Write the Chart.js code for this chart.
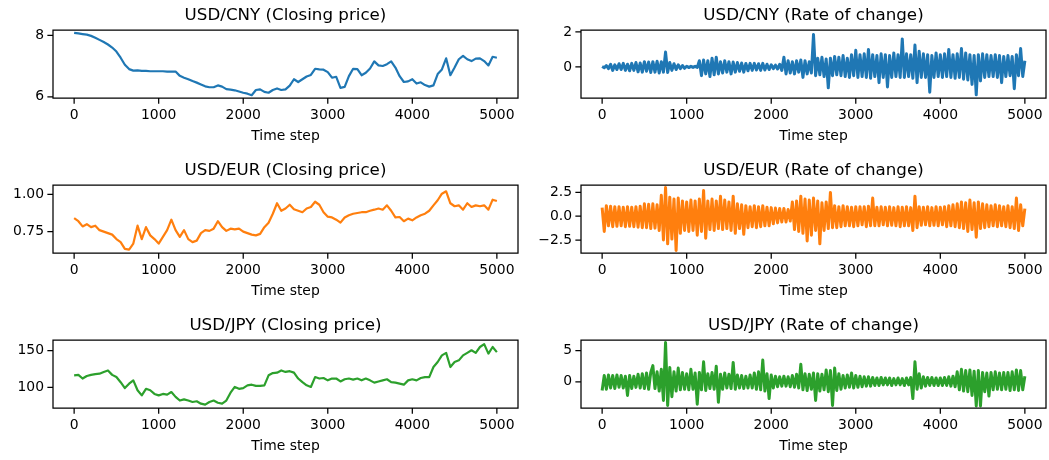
<!DOCTYPE html>
<html>
<head>
<meta charset="utf-8">
<script src="https://cdn.jsdelivr.net/npm/chart.js@4.4.1/dist/chart.umd.min.js"></script>
<style>
  html, body { margin: 0; padding: 0; background: #fff; }
  body { width: 1049px; height: 460px; position: relative; overflow: hidden; }
  canvas { position: absolute; }
</style>
</head>
<body>
<canvas id="cnyClose"></canvas>
<canvas id="cnyRoc"></canvas>
<canvas id="eurClose"></canvas>
<canvas id="eurRoc"></canvas>
<canvas id="jpyClose"></canvas>
<canvas id="jpyRoc"></canvas>
<script>
// time steps (x) for closing prices, every 50 steps
const closeSteps = [
  0, 50, 100, 150, 200, 250, 300, 350, 400, 450,
  500, 550, 600, 650, 700, 750, 800, 850, 900, 950,
  1000, 1050, 1100, 1150, 1200, 1250, 1300, 1350, 1400, 1450,
  1500, 1550, 1600, 1650, 1700, 1750, 1800, 1850, 1900, 1950,
  2000, 2050, 2100, 2150, 2200, 2250, 2300, 2350, 2400, 2450,
  2500, 2550, 2600, 2650, 2700, 2750, 2800, 2850, 2900, 2950,
  3000, 3050, 3100, 3150, 3200, 3250, 3300, 3350, 3400, 3450,
  3500, 3550, 3600, 3650, 3700, 3750, 3800, 3850, 3900, 3950,
  4000, 4050, 4100, 4150, 4200, 4250, 4300, 4350, 4400, 4450,
  4500, 4550, 4600, 4650, 4700, 4750, 4800, 4850, 4900, 4950,
  5000
];

// time steps (x) for rates of change, every 25 steps
const rocSteps = [
  0, 25, 50, 75, 100, 125, 150, 175,
  200, 225, 250, 275, 300, 325, 350, 375,
  400, 425, 450, 475, 500, 525, 550, 575,
  600, 625, 650, 675, 700, 725, 750, 775,
  800, 825, 850, 875, 900, 925, 950, 975,
  1000, 1025, 1050, 1075, 1100, 1125, 1150, 1175,
  1200, 1225, 1250, 1275, 1300, 1325, 1350, 1375,
  1400, 1425, 1450, 1475, 1500, 1525, 1550, 1575,
  1600, 1625, 1650, 1675, 1700, 1725, 1750, 1775,
  1800, 1825, 1850, 1875, 1900, 1925, 1950, 1975,
  2000, 2025, 2050, 2075, 2100, 2125, 2150, 2175,
  2200, 2225, 2250, 2275, 2300, 2325, 2350, 2375,
  2400, 2425, 2450, 2475, 2500, 2525, 2550, 2575,
  2600, 2625, 2650, 2675, 2700, 2725, 2750, 2775,
  2800, 2825, 2850, 2875, 2900, 2925, 2950, 2975,
  3000, 3025, 3050, 3075, 3100, 3125, 3150, 3175,
  3200, 3225, 3250, 3275, 3300, 3325, 3350, 3375,
  3400, 3425, 3450, 3475, 3500, 3525, 3550, 3575,
  3600, 3625, 3650, 3675, 3700, 3725, 3750, 3775,
  3800, 3825, 3850, 3875, 3900, 3925, 3950, 3975,
  4000, 4025, 4050, 4075, 4100, 4125, 4150, 4175,
  4200, 4225, 4250, 4275, 4300, 4325, 4350, 4375,
  4400, 4425, 4450, 4475, 4500, 4525, 4550, 4575,
  4600, 4625, 4650, 4675, 4700, 4725, 4750, 4775,
  4800, 4825, 4850, 4875, 4900, 4925, 4950, 4975,
  5000
];

const xTicks = [0, 1000, 2000, 3000, 4000, 5000];
const xTickLabels = ['0', '1000', '2000', '3000', '4000', '5000'];

// USD/CNY
const cnyClose = [
  8.08, 8.06, 8.04, 8.02, 7.98, 7.92, 7.85, 7.78, 7.70, 7.60,
  7.47, 7.27, 7.04, 6.90, 6.85, 6.86, 6.84, 6.84, 6.83, 6.83,
  6.83, 6.83, 6.82, 6.82, 6.82, 6.68, 6.62, 6.57, 6.51, 6.46,
  6.40, 6.34, 6.31, 6.31, 6.37, 6.33, 6.25, 6.23, 6.21, 6.17,
  6.13, 6.10, 6.05, 6.22, 6.24, 6.16, 6.13, 6.22, 6.27, 6.22,
  6.24, 6.36, 6.57, 6.48, 6.57, 6.66, 6.71, 6.91, 6.89, 6.88,
  6.80, 6.62, 6.65, 6.29, 6.32, 6.67, 6.91, 6.90, 6.70, 6.78,
  6.92, 7.15, 7.02, 7.00, 7.06, 7.15, 6.95, 6.67, 6.48, 6.50,
  6.57, 6.43, 6.47, 6.38, 6.33, 6.37, 6.74, 6.89, 7.25, 6.70,
  6.95, 7.22, 7.33, 7.22, 7.16, 7.24, 7.25, 7.16, 7.02, 7.30,
  7.27
];
const cnyRoc = [
  0.02, -0.05, 0.08, -0.1, 0.15, -0.2, 0.12, -0.15,
  0.18, -0.15, 0.2, -0.2, 0.15, -0.22, 0.2, -0.2,
  0.25, -0.28, 0.22, -0.3, 0.3, -0.25, 0.28, -0.32,
  0.3, -0.3, 0.32, -0.35, 0.3, -0.3, 0.85, -0.32,
  0.25, -0.2, 0.18, -0.15, 0.12, -0.1, 0.08, -0.08,
  0.04, -0.04, 0.03, -0.03, 0.03, -0.03, 0.35, -0.5,
  0.4, -0.4, 0.35, -0.55, 0.5, -0.45, 0.55, -0.4,
  0.3, -0.35, 0.35, -0.3, 0.3, -0.4, 0.28, -0.3,
  0.25, -0.25, 0.22, -0.3, 0.2, -0.22, 0.2, -0.2,
  0.2, -0.18, 0.18, -0.2, 0.2, -0.18, 0.15, -0.15,
  0.12, -0.1, 0.1, -0.12, 0.15, -0.2, 0.55, -0.4,
  0.35, -0.35, 0.3, -0.4, 0.35, -0.3, 0.4, -0.6,
  0.35, -0.4, 0.3, -0.35, 1.85, -0.5, 0.5, -0.45,
  0.55, -0.55, 0.45, -1.2, 0.5, -0.5, 0.6, -0.45,
  0.55, -0.5, 0.65, -0.55, 0.5, -0.6, 0.7, -0.5,
  0.95, -0.6, 0.7, -0.55, 0.75, -0.6, 1.0, -0.65,
  0.7, -0.55, 0.65, -0.9, 0.75, -0.6, 0.7, -1.15,
  0.65, -0.6, 0.8, -0.55, 0.7, -0.6, 1.6, -0.6,
  0.75, -0.55, 0.7, -0.65, 1.25, -0.9, 0.9, -0.6,
  0.75, -0.6, 0.7, -1.45, 0.65, -0.6, 0.8, -0.55,
  0.7, -0.6, 0.75, -0.55, 1.0, -0.6, 0.7, -0.65,
  0.75, -0.6, 1.05, -0.7, 0.8, -0.75, 0.7, -1.0,
  0.65, -1.6, 0.7, -0.8, 0.75, -0.6, 0.7, -0.55,
  0.65, -0.55, 0.7, -0.6, 0.65, -0.9, 0.6, -0.55,
  0.65, -0.5, 0.6, -1.25, 0.7, -0.5, 1.05, -0.55,
  0.35
];

// USD/EUR
const eurClose = [
  0.84, 0.82, 0.785, 0.80, 0.78, 0.79, 0.76, 0.75, 0.74, 0.73,
  0.70, 0.68, 0.635, 0.63, 0.67, 0.79, 0.70, 0.78, 0.725, 0.70,
  0.67, 0.715, 0.76, 0.83, 0.76, 0.715, 0.76, 0.70, 0.68, 0.69,
  0.74, 0.76, 0.755, 0.77, 0.82, 0.78, 0.755, 0.77, 0.765, 0.77,
  0.75, 0.74, 0.73, 0.725, 0.735, 0.78, 0.81, 0.87, 0.94, 0.89,
  0.905, 0.93, 0.90, 0.89, 0.88, 0.905, 0.915, 0.95, 0.93, 0.88,
  0.85, 0.845, 0.83, 0.81, 0.845, 0.86, 0.87, 0.875, 0.88, 0.88,
  0.89, 0.897, 0.905, 0.897, 0.926, 0.89, 0.845, 0.848, 0.82, 0.837,
  0.826, 0.845, 0.86, 0.87, 0.89, 0.926, 0.96, 1.004, 1.02, 0.94,
  0.92, 0.926, 0.897, 0.94, 0.915, 0.926, 0.92, 0.926, 0.897, 0.964,
  0.955
];
const eurRoc = [
  0.9, -1.6, 1.1, -1.0, 1.05, -1.1, 1.0, -1.05,
  1.0, -1.0, 0.95, -1.1, 1.0, -1.05, 0.95, -1.1,
  1.0, -1.15, 1.05, -1.2, 1.3, -1.2, 1.25, -1.3,
  1.3, -1.25, 1.2, -1.5, 2.2, -2.5, 3.0, -2.9,
  2.0, -2.4, 1.8, -3.6, 1.9, -1.8, 1.6, -1.5,
  1.5, -1.6, 1.7, -1.5, 1.6, -2.0, 1.8, -1.6,
  2.7, -2.3, 1.6, -1.4, 1.8, -1.5, 1.6, -1.3,
  2.1, -1.4, 1.7, -1.3, 1.5, -1.5, 2.1, -1.8,
  1.3, -1.3, 1.2, -1.9, 1.1, -1.2, 1.0, -1.1,
  1.1, -1.2, 1.0, -1.1, 1.1, -1.0, 0.95, -1.0,
  0.9, -0.8, 0.85, -0.7, 0.8, -0.6, 0.8, -0.6,
  0.7, -0.5, 1.5, -1.4, 1.6, -1.6, 2.1, -1.8,
  1.8, -2.6, 1.7, -2.0, 1.9, -1.5, 1.6, -2.9,
  1.4, -1.5, 1.5, -1.3, 2.5, -1.2, 1.1, -1.2,
  1.0, -1.1, 1.1, -1.0, 1.0, -1.0, 0.95, -1.1,
  1.0, -1.0, 1.0, -0.9, 1.0, -1.1, 1.05, -1.0,
  1.9, -1.0, 0.95, -1.0, 1.0, -0.9, 0.95, -1.0,
  1.0, -0.95, 0.9, -1.0, 1.0, -1.1, 0.95, -1.0,
  1.0, -1.0, 0.9, -1.5, 2.1, -1.2, 1.0, -0.95,
  0.95, -0.9, 1.0, -1.0, 0.9, -0.95, 1.0, -1.0,
  0.95, -0.9, 1.0, -1.1, 1.1, -1.0, 1.2, -1.1,
  1.3, -1.2, 1.5, -1.3, 1.4, -1.6, 1.7, -1.4,
  1.4, -2.2, 1.5, -1.3, 1.3, -1.2, 1.2, -1.1,
  1.1, -1.0, 1.2, -1.1, 1.1, -1.0, 1.0, -1.1,
  1.1, -1.2, 1.0, -1.3, 1.9, -1.5, 1.2, -1.0,
  0.8
];

// USD/JPY
const jpyClose = [
  116.4, 117, 112, 115.5, 117, 118, 118.6, 121, 123, 117,
  114, 107, 99, 105, 109.5, 96, 89, 98, 96, 91,
  89, 91, 90, 93.6, 87, 82, 83.6, 82, 80, 81,
  77.7, 76.4, 80, 82, 79, 77.7, 82, 92.7, 100.5, 98,
  99, 102.7, 103.6, 102, 102, 102.7, 116.4, 119.5, 120, 123,
  121, 122, 120, 112, 107, 102.7, 100.5, 114, 112, 112.7,
  109.5, 112, 112, 108, 111, 112, 110.5, 112, 109.5, 112,
  109.5, 106.4, 108, 109.5, 111, 107, 106.4, 105, 103.6, 109.5,
  111, 109.5, 112.7, 114, 114, 127.7, 134.5, 143.6, 147, 127.7,
  134.5, 136.8, 143.6, 147, 150.5, 147, 155, 159, 146, 155,
  148
];
const jpyRoc = [
  -1.4, 1.0, -1.2, 1.1, -1.0, 1.0, -1.1, 1.1,
  -0.9, 1.0, -1.0, 0.9, -2.2, 1.0, -1.1, 0.9,
  -0.9, 1.2, -1.0, 1.3, -1.1, 1.4, -1.2, 1.5,
  2.6, -1.1, 1.6, -1.5, 2.0, -3.0, 6.3, -3.8,
  2.3, -2.4, 1.6, -1.5, 2.2, -1.3, 1.5, -1.2,
  1.3, -1.3, 2.0, -1.2, 1.4, -3.6, 1.5, -1.3,
  3.2, -1.4, 1.3, -1.1, 1.5, -1.2, 2.5, -3.3,
  1.2, -1.2, 1.4, -1.0, 1.2, -1.1, 3.1, -1.2,
  1.1, -1.0, 1.0, -1.1, 0.9, -1.0, 1.1, -1.0,
  1.4, -1.2, 1.6, -1.3, 3.5, -1.5, 1.3, -2.7,
  1.1, -1.0, 0.9, -0.8, 0.8, -0.7, 0.9, -0.7,
  0.8, -0.8, 1.0, -0.9, 1.2, -1.0, 2.8, -1.3,
  1.3, -1.4, 1.2, -1.2, 1.4, -3.0, 1.3, -1.5,
  1.2, -1.3, 1.9, -1.6, 1.8, -3.8, 2.2, -1.4,
  1.3, -1.2, 1.0, -1.0, 1.1, -0.9, 1.4, -1.0,
  1.0, -0.9, 0.9, -0.8, 0.8, -0.7, 0.8, -0.7,
  0.7, -0.6, 0.6, -0.6, 0.7, -0.5, 0.6, -0.5,
  0.6, -0.6, 0.5, -0.5, 0.6, -0.5, 0.5, -0.6,
  0.6, -0.5, 0.7, -2.7, 3.2, -1.2, 1.3, -1.0,
  0.8, -0.7, 0.7, -0.6, 0.7, -0.6, 0.6, -0.6,
  0.6, -0.6, 0.7, -0.6, 0.8, -0.7, 0.9, -0.8,
  1.6, -1.3, 2.0, -1.5, 1.8, -1.6, 1.9, -2.2,
  1.7, -3.9, 1.8, -3.9, 1.5, -1.6, 1.4, -2.3,
  1.5, -1.3, 1.6, -1.2, 1.4, -1.3, 1.5, -1.2,
  1.5, -1.4, 1.6, -1.3, 1.9, -1.4, 1.8, -1.3,
  0.9
];

// y tick values and labels per panel
const cnyCloseTicks = [6, 8];
const cnyCloseLabels = ['6', '8'];
const cnyRocTicks = [0, 2];
const cnyRocLabels = ['0', '2'];
const eurCloseTicks = [0.75, 1.0];
const eurCloseLabels = ['0.75', '1.00'];
const eurRocTicks = [-2.5, 0, 2.5];
const eurRocLabels = ['\u22122.5', '0.0', '2.5'];
const jpyCloseTicks = [100, 150];
const jpyCloseLabels = ['100', '150'];
const jpyRocTicks = [0, 5];
const jpyRocLabels = ['0', '5'];

const BLUE = '#1f77b4', ORANGE = '#ff7f0e', GREEN = '#2ca02c';
const FONT = 'DejaVu Sans';

Chart.defaults.font.family = FONT;
Chart.defaults.color = '#000';

// spines and tick marks, placed with the chart's own scales
const framePlugin = {
  id: 'mplFrame',
  afterDraw(chart) {
    const a = chart.chartArea;
    const ctx = chart.ctx;
    const xs = chart.scales.x, ys = chart.scales.y;
    ctx.save();
    ctx.strokeStyle = '#000';
    ctx.lineWidth = 1.25;
    ctx.lineCap = 'square';
    ctx.beginPath();
    ctx.rect(a.left, a.top, a.right - a.left, a.bottom - a.top);
    xs.ticks.forEach(tk => {
      const px = xs.getPixelForValue(tk.value);
      ctx.moveTo(px, a.bottom);
      ctx.lineTo(px, a.bottom + 5);
    });
    ys.ticks.forEach(tk => {
      const py = ys.getPixelForValue(tk.value);
      ctx.moveTo(a.left, py);
      ctx.lineTo(a.left - 5, py);
    });
    ctx.stroke();
    ctx.restore();
  }
};

function makePanel(id, col, rowTop, title, steps, values, color, lineWidth, yMin, yMax, yTicks, yLabels) {
  const canvas = document.getElementById(id);
  const left = col === 0 ? 0 : 530;
  const yAxisWidth = col === 0 ? 53 : 51;
  const width = col === 0 ? 522 : 519;
  const padRight = col === 0 ? 4 : 3;
  canvas.width = width;
  canvas.height = 145;
  canvas.style.left = left + 'px';
  canvas.style.top = (rowTop - 30) + 'px';

  new Chart(canvas, {
    type: 'line',
    data: {
      datasets: [{
        data: steps.map((s, i) => ({ x: s, y: values[i] })),
        borderColor: color,
        borderWidth: lineWidth,
        borderJoinStyle: 'round',
        pointRadius: 0,
        tension: 0,
        fill: false
      }]
    },
    plugins: [framePlugin],
    options: {
      responsive: false,
      animation: false,
      devicePixelRatio: 1,
      layout: { padding: { left: 0, right: padRight, top: 0, bottom: 0 } },
      plugins: {
        legend: { display: false },
        tooltip: { enabled: false },
        title: {
          display: true,
          text: title,
          fullSize: false,
          color: '#000',
          font: { family: FONT, size: 16.7, weight: 'normal', lineHeight: 1.2 },
          padding: { top: 5.5, bottom: 4.5 }
        }
      },
      scales: {
        x: {
          type: 'linear',
          min: -250,
          max: 5250,
          afterBuildTicks: s => { s.ticks = xTicks.map(v => ({ value: v })); },
          afterFit: s => { s.height = 47; },
          ticks: {
            autoSkip: false,
            maxRotation: 0,
            padding: 4,
            color: '#000',
            font: { family: FONT, size: 13.9 },
            callback: (v, i) => xTickLabels[i]
          },
          grid: { display: false, drawTicks: true, tickLength: 5 },
          border: { display: false },
          title: {
            display: true,
            text: 'Time step',
            color: '#000',
            font: { family: FONT, size: 13.9, lineHeight: 1.2 },
            padding: { top: 0, bottom: 0 }
          }
        },
        y: {
          type: 'linear',
          min: yMin,
          max: yMax,
          afterBuildTicks: s => { s.ticks = yTicks.map(v => ({ value: v })); },
          afterFit: s => { s.width = yAxisWidth; },
          ticks: {
            padding: 4,
            color: '#000',
            font: { family: FONT, size: 13.9 },
            callback: (v, i) => yLabels[i]
          },
          grid: { display: false, drawTicks: true, tickLength: 5 },
          border: { display: false }
        }
      }
    }
  });
}

makePanel('cnyClose', 0, 30, 'USD/CNY (Closing price)', closeSteps, cnyClose, BLUE, 2.2, 5.96, 8.17, cnyCloseTicks, cnyCloseLabels);
makePanel('cnyRoc', 1, 30, 'USD/CNY (Rate of change)', rocSteps, cnyRoc, BLUE, 3, -1.78, 2.11, cnyRocTicks, cnyRocLabels);
makePanel('eurClose', 0, 185, 'USD/EUR (Closing price)', closeSteps, eurClose, ORANGE, 2.2, 0.607, 1.062, eurCloseTicks, eurCloseLabels);
makePanel('eurRoc', 1, 185, 'USD/EUR (Rate of change)', rocSteps, eurRoc, ORANGE, 3, -3.86, 3.27, eurRocTicks, eurRocLabels);
makePanel('jpyClose', 0, 340, 'USD/JPY (Closing price)', closeSteps, jpyClose, GREEN, 2.2, 71.8, 164.5, jpyCloseTicks, jpyCloseLabels);
makePanel('jpyRoc', 1, 340, 'USD/JPY (Rate of change)', rocSteps, jpyRoc, GREEN, 3, -4.22, 6.71, jpyRocTicks, jpyRocLabels);
</script>
</body>
</html>
